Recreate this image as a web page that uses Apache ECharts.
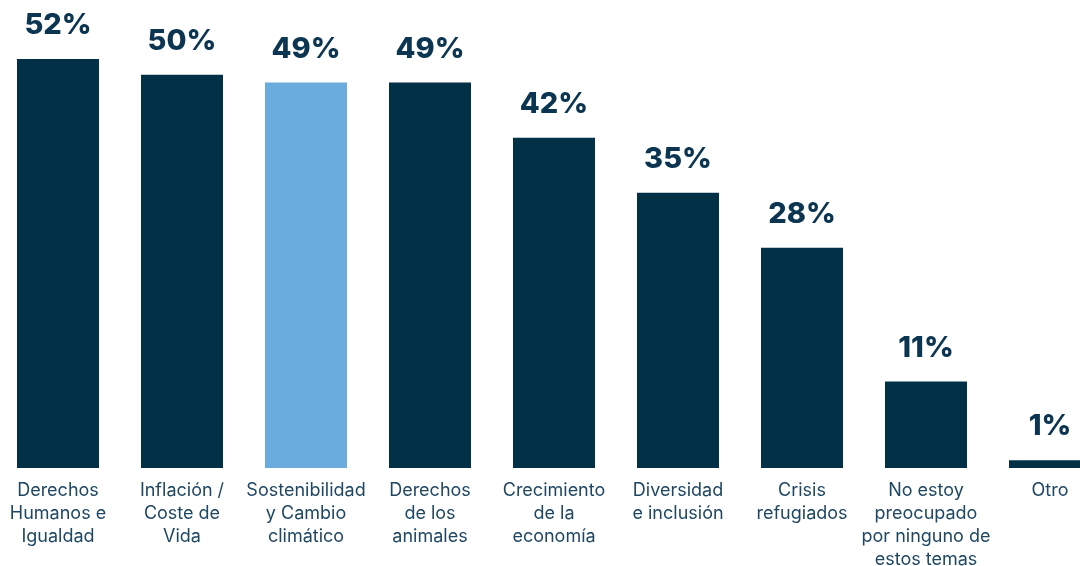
<!DOCTYPE html>
<html>
<head>
<meta charset="utf-8">
<script src="https://cdn.jsdelivr.net/npm/echarts@6/dist/echarts.min.js"></script>
<style>
  html, body { margin: 0; padding: 0; background: #ffffff; }
  #chart { width: 1080px; height: 566px; }
</style>
</head>
<body>
<div id="chart"></div>
<script>
// Temas que preocupan (% de respuestas)
const categories = [
  'Derechos\nHumanos e\nIgualdad',
  'Inflación /\nCoste de\nVida',
  'Sostenibilidad\ny Cambio\nclimático',
  'Derechos\nde los\nanimales',
  'Crecimiento\nde la\neconomía',
  'Diversidad\ne inclusión',
  'Crisis\nrefugiados',
  'No estoy\npreocupado\npor ninguno de\nestos temas',
  'Otro'
];
const values = [52, 50, 49, 49, 42, 35, 28, 11, 1];
// Índice de la barra resaltada
const highlightIndex = 2;

const NAVY = '#023047';
const SKY = '#6aacdd';

const chart = echarts.init(document.getElementById('chart'));
chart.setOption({
  animation: false,
  grid: {
    left: -4, right: -32, top: 59, bottom: 98,
    containLabel: false,
    outerBoundsMode: 'none'
  },
  xAxis: {
    type: 'category',
    data: categories,
    axisLine: { show: false },
    axisTick: { show: false },
    axisLabel: {
      interval: 0,
      margin: 11,
      fontFamily: 'Inter',
      fontSize: 18,
      lineHeight: 23,
      color: '#1f4762'
    }
  },
  yAxis: {
    type: 'value',
    min: 0,
    max: 52,
    show: false,
    splitLine: { show: false }
  },
  series: [{
    type: 'bar',
    barWidth: 82,
    data: values.map((v, i) => ({
      value: v,
      itemStyle: { color: i === highlightIndex ? SKY : NAVY }
    })),
    label: {
      show: true,
      position: 'top',
      distance: 19,
      formatter: '{c}%',
      fontFamily: 'Inter',
      fontWeight: 800,
      fontSize: 29,
      color: '#0b3550'
    }
  }]
});
</script>
</body>
</html>
